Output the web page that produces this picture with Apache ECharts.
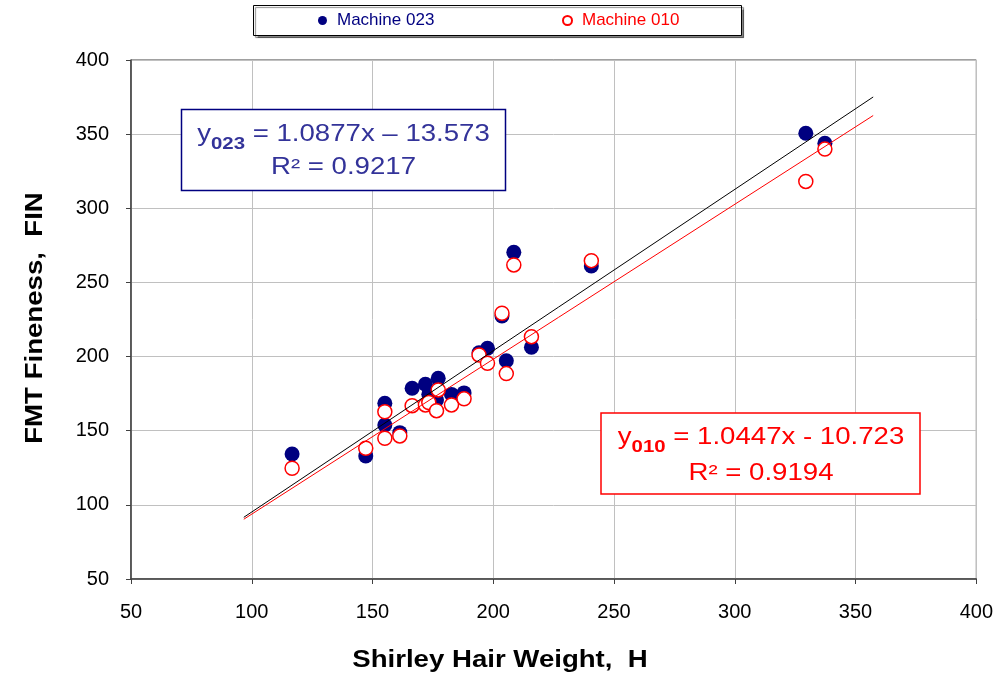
<!DOCTYPE html>
<html>
<head>
<meta charset="utf-8">
<title>FMT Fineness vs Shirley Hair Weight</title>
<script src="https://cdn.jsdelivr.net/npm/echarts@6/dist/echarts.min.js"></script>
<style>
  html, body { margin: 0; padding: 0; background: #fff; }
  #chart { width: 996px; height: 681px; }
</style>
</head>
<body>
<div id="chart"></div>
<script>
// Shirley hair weight (H) of each sample
const hairWeight = [116.7, 147.2, 155.1, 155.1, 161.3, 166.4, 171.9, 173.3, 176.5, 177.2, 182.7,
                    187.9, 194.1, 197.6, 205.4, 203.6, 208.5, 215.8, 240.6, 329.4, 337.3];
// FMT fineness measured on machine 023
const fineness023 = [134.3, 133.0, 168.5, 153.9, 148.7, 178.6, 181.3, 174.6, 170.7, 185.3, 174.5,
                     175.5, 202.6, 205.6, 197.2, 227.4, 270.3, 206.3, 261.1, 350.6, 343.9];
// FMT fineness measured on machine 010
const fineness010 = [124.7, 138.2, 162.8, 144.9, 146.5, 166.9, 167.4, 169.0, 163.5, 177.5, 167.4,
                     171.5, 201.1, 195.5, 188.5, 229.2, 261.8, 213.4, 264.7, 318.1, 339.9];

// Least-squares fits reported in the boxes
const fit023 = { slope: 1.0877, intercept: -13.573, r2: 0.9217 };
const fit010 = { slope: 1.0447, intercept: -10.723, r2: 0.9194 };

const seriesNames = ['Machine 023', 'Machine 010'];
const axisTicks = { min: 50, max: 400, step: 50 };

const pairs = (xs, ys) => xs.map((x, i) => [x, ys[i]]);
// Trend lines extended 20 units beyond the data on both sides
const xLo = Math.min(...hairWeight) - 20;
const xHi = Math.max(...hairWeight) + 20;
const trend = f => [[xLo, f.slope * xLo + f.intercept], [xHi, f.slope * xHi + f.intercept]];

const NAVY = '#000080';
const RED = '#ff0000';
const TXT = 'Liberation Sans, Arial, sans-serif';
const STRETCH = 1.2;

// text width helper for laying out the subscripted equation
const measureCtx = document.createElement('canvas').getContext('2d');
function textWidth(str, font) {
  measureCtx.font = font;
  return measureCtx.measureText(str).width;
}

function eqText(cx, cy1, cy2, sub, body, r2, color) {
  const mainFont = '23px "Liberation Sans"';
  const subFont = 'bold 17px "Liberation Sans"';
  const wY = textWidth('y', mainFont) * STRETCH;
  const wS = textWidth(sub, subFont) * STRETCH;
  const wB = textWidth(body, mainFont) * STRETCH;
  const x0 = cx - (wY + wS + wB) / 2;
  const piece = (x, y, text, size, weight) => ({
    type: 'text', x: x, y: y, scaleX: STRETCH, z: 20,
    style: { text: text, fontFamily: TXT, fontSize: size, fontWeight: weight, fill: color,
             align: 'left', verticalAlign: 'middle' }
  });
  return [
    piece(x0, cy1, 'y', 23, 'normal'),
    piece(x0 + wY, cy1 + 9, sub, 17, 'bold'),
    piece(x0 + wY + wS, cy1, body, 23, 'normal'),
    {
      type: 'text', x: cx, y: cy2, scaleX: STRETCH, z: 20,
      style: {
        text: 'R\u00b2 = ' + r2.toFixed(4),
        fontFamily: TXT, fontSize: 23, fill: color,
        align: 'center', verticalAlign: 'middle'
      }
    }
  ];
}

const chart = echarts.init(document.getElementById('chart'), null, { renderer: 'canvas' });

chart.setOption({
  animation: false,
  backgroundColor: '#ffffff',
  grid: {
    left: 131, right: 19, top: 60, bottom: 102,
    show: true, borderColor: '#404040', borderWidth: 1
  },
  legend: [
    {
      data: [{ name: seriesNames[0], textStyle: { color: NAVY } }],
      left: 318, top: 12, padding: 0, itemWidth: 9, itemHeight: 10,
      textStyle: { fontFamily: TXT, fontSize: 17, padding: [0, 0, 0, 5] },
      selectedMode: false
    },
    {
      data: [{ name: seriesNames[1], textStyle: { color: RED } }],
      left: 562, top: 12, padding: 0, itemWidth: 9, itemHeight: 9,
      textStyle: { fontFamily: TXT, fontSize: 17, padding: [0, 0, 0, 5] },
      selectedMode: false
    }
  ],
  xAxis: {
    type: 'value', min: axisTicks.min, max: axisTicks.max, interval: axisTicks.step,
    axisLine: { show: true, lineStyle: { color: '#404040', width: 1.5 } },
    axisTick: { show: true, length: 5, lineStyle: { color: '#404040' } },
    axisLabel: { fontFamily: TXT, fontSize: 20, color: '#000', margin: 23 },
    splitLine: { show: true, lineStyle: { color: '#c0c0c0', width: 1 } }
  },
  yAxis: {
    type: 'value', min: axisTicks.min, max: axisTicks.max, interval: axisTicks.step,
    axisLine: { show: true, lineStyle: { color: '#404040', width: 1.5 } },
    axisTick: { show: true, length: 5, lineStyle: { color: '#404040' } },
    axisLabel: { fontFamily: TXT, fontSize: 20, color: '#000', margin: 22 },
    splitLine: { show: true, lineStyle: { color: '#c0c0c0', width: 1 } }
  },
  series: [
    {
      name: seriesNames[0], type: 'scatter', symbol: 'circle', symbolSize: 15,
      itemStyle: { color: NAVY, opacity: 1 },
      data: pairs(hairWeight, fineness023), z: 2
    },
    {
      name: seriesNames[1], type: 'scatter', symbol: 'circle', symbolSize: 14,
      itemStyle: { color: '#ffffff', borderColor: RED, borderWidth: 1.5, opacity: 1 },
      data: pairs(hairWeight, fineness010), z: 3
    },
    {
      name: 'trend023', type: 'line', data: trend(fit023), symbol: 'none',
      lineStyle: { color: '#000000', width: 1 }, z: 4, silent: true
    },
    {
      name: 'trend010', type: 'line', data: trend(fit010), symbol: 'none',
      lineStyle: { color: RED, width: 1 }, z: 5, silent: true
    }
  ],
  graphic: [
    // legend frame
    {
      type: 'rect', z: -1,
      shape: { x: 253.5, y: 5.5, width: 488, height: 30 },
      style: { fill: '#fff', stroke: '#000', lineWidth: 1,
               shadowColor: 'rgba(0,0,0,0.45)', shadowOffsetX: 2, shadowOffsetY: 2, shadowBlur: 1 }
    },
    // axis titles
    {
      type: 'text', x: 500, y: 661, scaleX: STRETCH, z: 20,
      style: { text: 'Shirley Hair Weight,  H', fontFamily: TXT, fontSize: 23, fontWeight: 'bold',
               fill: '#000', align: 'center', verticalAlign: 'middle' }
    },
    {
      type: 'text', x: 36, y: 318, rotation: Math.PI / 2, scaleX: STRETCH, z: 20,
      style: { text: 'FMT Fineness,  FIN', fontFamily: TXT, fontSize: 23, fontWeight: 'bold',
               fill: '#000', align: 'center', verticalAlign: 'middle' }
    },
    // equation boxes
    {
      type: 'rect', z: 15,
      shape: { x: 181.5, y: 109.5, width: 324, height: 81 },
      style: { fill: '#fff', stroke: NAVY, lineWidth: 1.5 }
    },
    ...eqText(343.5, 135, 168, '023', ' = 1.0877x \u2013 13.573', fit023.r2, '#333399'),
    {
      type: 'rect', z: 15,
      shape: { x: 601, y: 413, width: 319, height: 81 },
      style: { fill: '#fff', stroke: RED, lineWidth: 1.5 }
    },
    ...eqText(761, 438, 474, '010', ' = 1.0447x - 10.723', fit010.r2, RED)
  ]
});
</script>
</body>
</html>
